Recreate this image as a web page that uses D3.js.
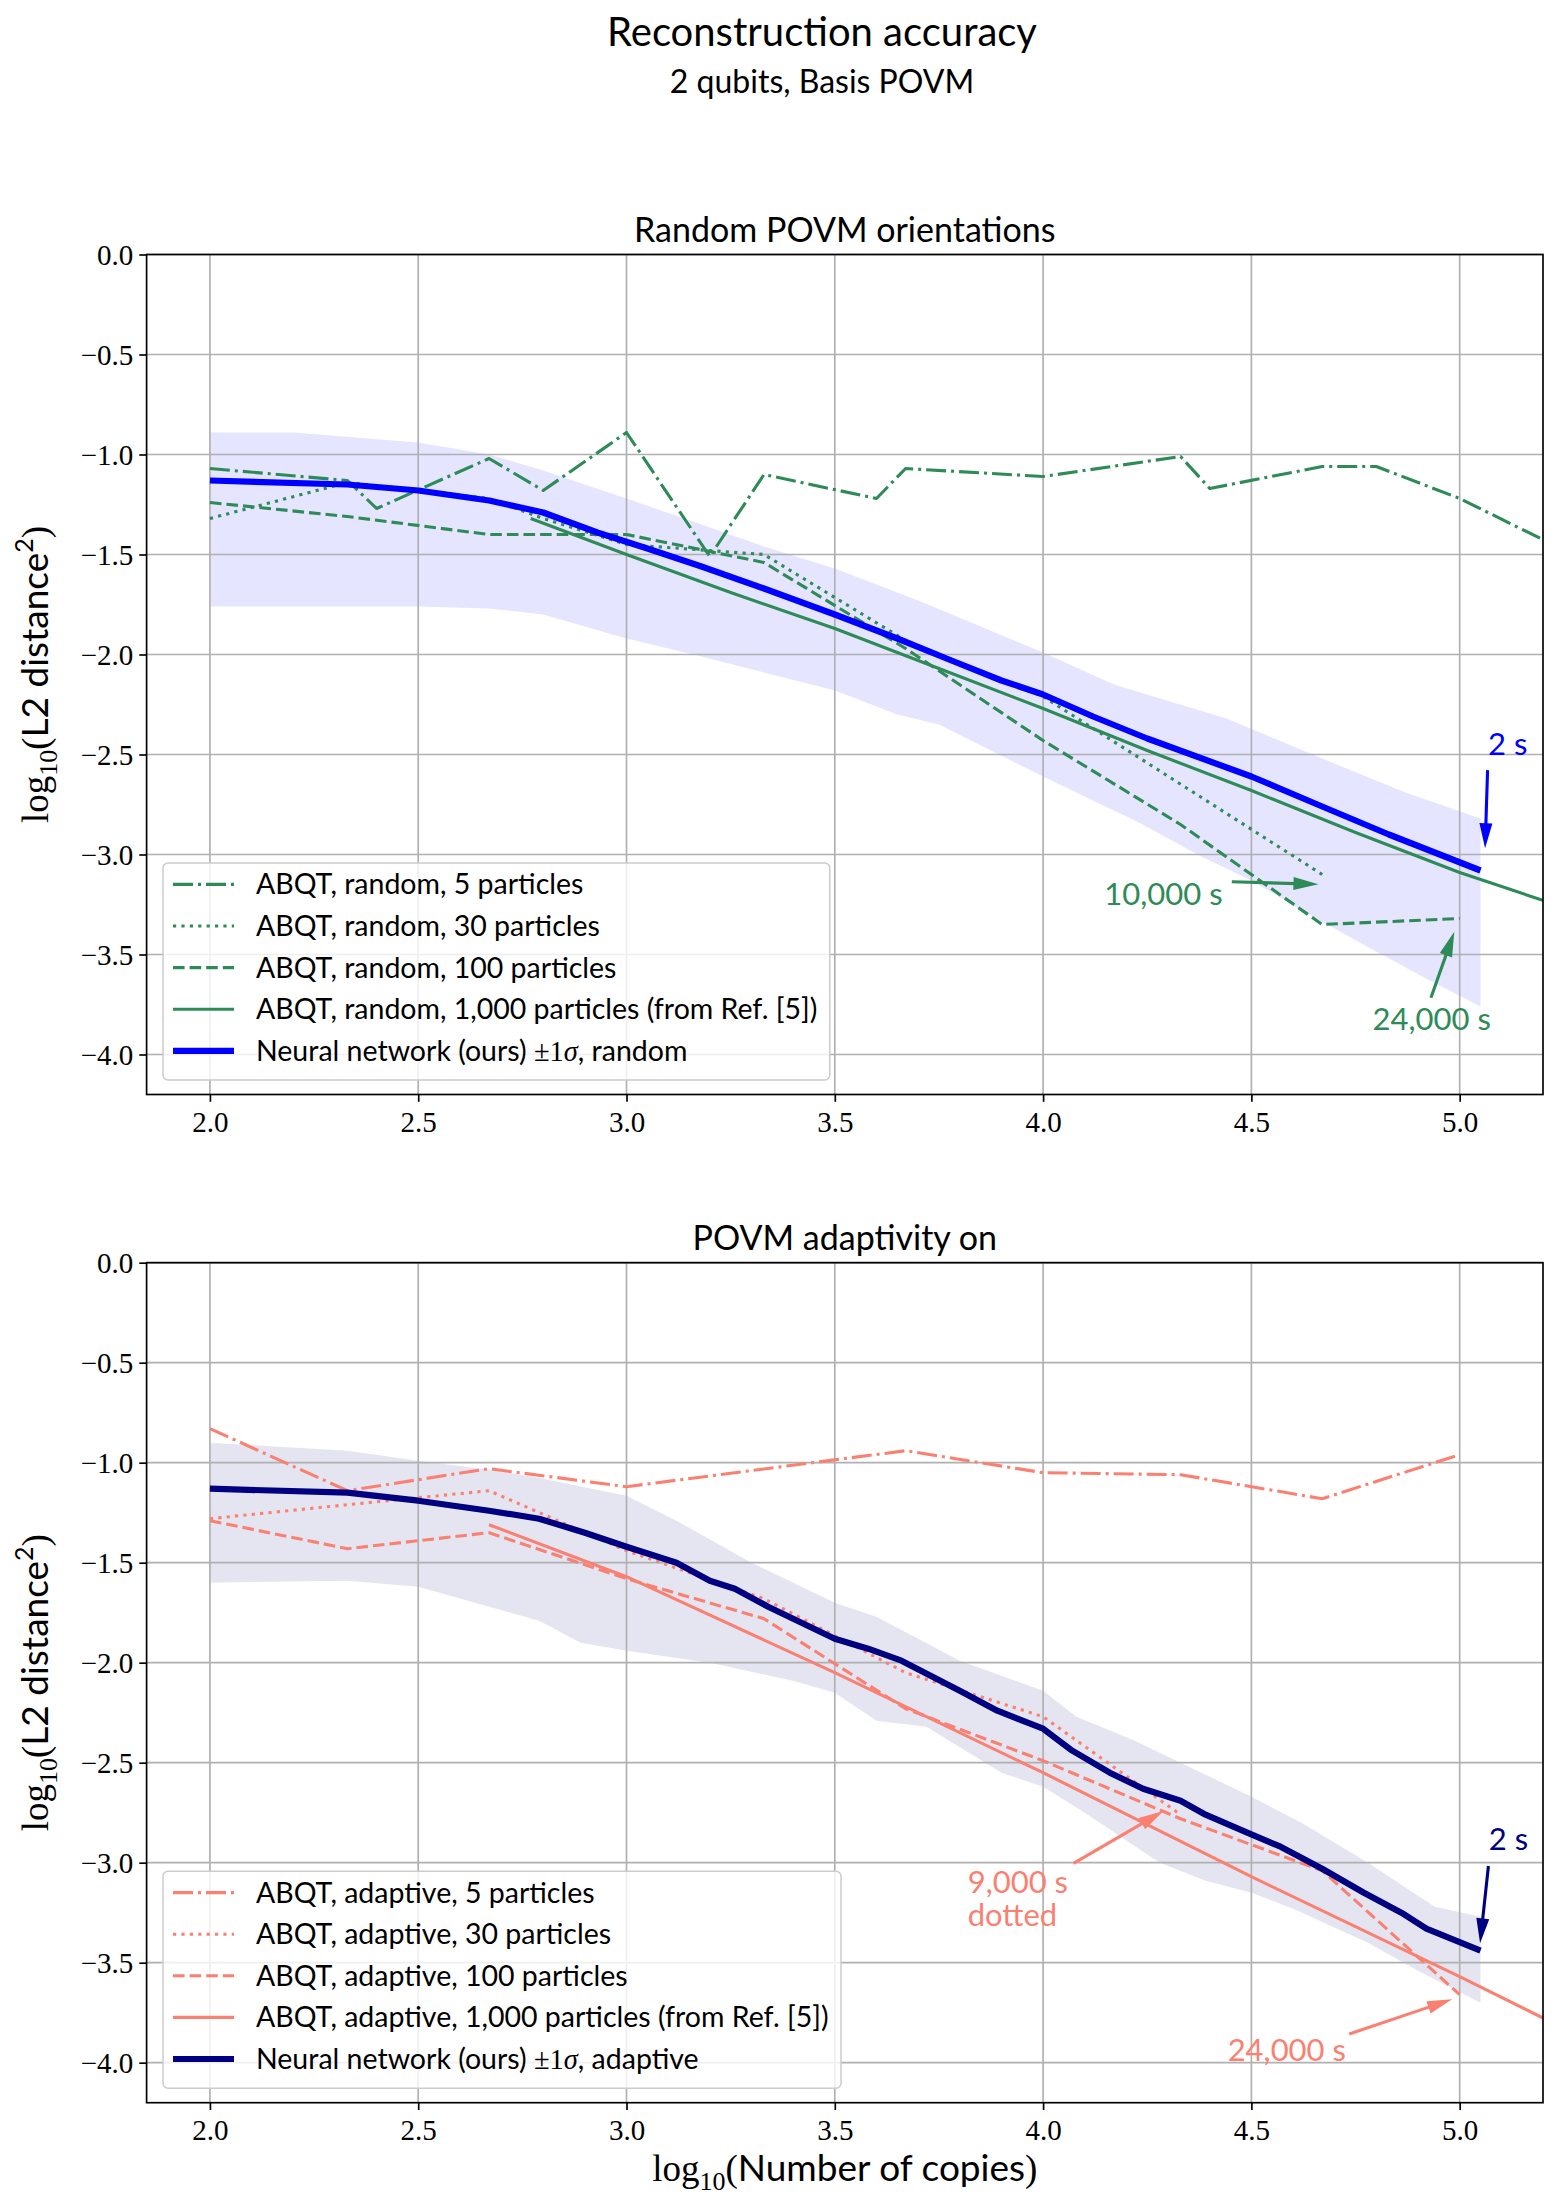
<!DOCTYPE html>
<html>
<head>
<meta charset="utf-8">
<script src="https://cdn.jsdelivr.net/npm/d3@7/dist/d3.min.js"></script>
<style>
    body { margin: 0; background: #ffffff; }
    svg text { font-family: Lato, "DejaVu Sans", sans-serif; fill: #000; }
    svg .num { font-family: "Liberation Serif", "DejaVu Serif", serif; }
</style>
</head>
<body>
<svg id="chart" width="1566" height="2211"></svg>
<script>

var xTicks = [2.0, 2.5, 3.0, 3.5, 4.0, 4.5, 5.0];
var yTicks = [0.0, -0.5, -1.0, -1.5, -2.0, -2.5, -3.0, -3.5, -4.0];

/* top panel, random POVM orientations : [log10(copies), log10(L2 distance^2)] */
var randomP5 = [[2.0, -1.07], [2.33, -1.13], [2.4, -1.27], [2.67, -1.02], [2.8, -1.18], [3.0, -0.89],
    [3.2, -1.51], [3.33, -1.10], [3.6, -1.22], [3.67, -1.07], [4.0, -1.11], [4.33, -1.01],
    [4.4, -1.17], [4.67, -1.06], [4.8, -1.06], [5.0, -1.22], [5.33, -1.56]];
var randomP30 = [[2.0, -1.32], [2.33, -1.14], [2.67, -1.22], [2.8, -1.32], [3.0, -1.45], [3.33, -1.50],
    [3.67, -1.93], [4.0, -2.21], [4.67, -3.10]];
var randomP100 = [[2.0, -1.24], [2.33, -1.31], [2.67, -1.40], [3.0, -1.40], [3.33, -1.54], [3.67, -1.97],
    [4.0, -2.43], [4.33, -2.85], [4.67, -3.35], [5.0, -3.32]];
var randomP1000 = [[2.77, -1.32], [3.0, -1.50], [3.25, -1.69], [3.5, -1.87], [3.75, -2.07], [4.0, -2.27],
    [4.25, -2.48], [4.5, -2.68], [4.75, -2.89], [5.0, -3.09], [5.33, -3.32]];
var randomNN = [[2.0, -1.13], [2.33, -1.15], [2.5, -1.18], [2.67, -1.23], [2.8, -1.29], [2.93, -1.39],
    [3.05, -1.47], [3.18, -1.56], [3.33, -1.67], [3.5, -1.80], [3.65, -1.92], [3.78, -2.03],
    [3.9, -2.13], [4.0, -2.20], [4.12, -2.31], [4.25, -2.42], [4.5, -2.61], [4.67, -2.76],
    [4.83, -2.90], [5.05, -3.08]];
var randomUpper = [[2.0, -0.89], [2.2, -0.89], [2.5, -0.94], [2.67, -1.0], [2.8, -1.08], [3.0, -1.22],
    [3.18, -1.35], [3.33, -1.46], [3.5, -1.57], [3.7, -1.73], [4.0, -1.99], [4.17, -2.15],
    [4.44, -2.32], [4.67, -2.52], [4.87, -2.69], [5.05, -2.82]];
var randomLower = [[2.0, -1.76], [2.5, -1.76], [2.67, -1.77], [2.8, -1.80], [3.0, -1.92], [3.18, -2.01],
    [3.5, -2.18], [3.65, -2.30], [3.75, -2.35], [4.0, -2.61], [4.15, -2.76], [4.23, -2.84],
    [4.38, -3.01], [4.5, -3.13], [4.63, -3.29], [4.76, -3.44], [4.91, -3.61], [5.05, -3.76]];

/* bottom panel, POVM adaptivity on */
var adaptiveP5 = [[2.0, -0.83], [2.33, -1.14], [2.67, -1.03], [3.0, -1.12], [3.67, -0.94], [4.0, -1.05],
    [4.33, -1.06], [4.67, -1.18], [5.0, -0.96]];
var adaptiveP30 = [[2.0, -1.28], [2.33, -1.21], [2.67, -1.14], [3.0, -1.44], [3.33, -1.68], [3.67, -2.05],
    [4.0, -2.27], [4.33, -2.76]];
var adaptiveP100 = [[2.0, -1.29], [2.33, -1.43], [2.67, -1.35], [3.0, -1.58], [3.33, -1.78], [3.67, -2.23],
    [4.0, -2.49], [4.33, -2.78], [4.67, -3.04], [5.0, -3.66]];
var adaptiveP1000 = [[2.67, -1.31], [3.0, -1.57], [3.5, -2.05], [4.0, -2.55], [4.5, -3.07], [5.0, -3.57],
    [5.33, -3.91]];
var adaptiveNN = [[2.0, -1.13], [2.33, -1.15], [2.5, -1.19], [2.67, -1.24], [2.79, -1.28], [2.9, -1.35],
    [3.0, -1.42], [3.12, -1.50], [3.2, -1.59], [3.26, -1.63], [3.34, -1.72], [3.42, -1.80],
    [3.5, -1.88], [3.58, -1.93], [3.66, -1.99], [3.8, -2.14], [3.89, -2.24], [4.0, -2.33],
    [4.07, -2.44], [4.16, -2.55], [4.24, -2.63], [4.33, -2.69], [4.39, -2.76], [4.49, -2.85],
    [4.57, -2.92], [4.67, -3.03], [4.77, -3.15], [4.86, -3.25], [4.92, -3.33], [5.05, -3.44]];
var adaptiveUpper = [[2.0, -0.90], [2.33, -0.94], [2.5, -0.99], [2.69, -1.04], [2.8, -1.08], [3.0, -1.165],
    [3.12, -1.29], [3.3, -1.50], [3.5, -1.70], [3.6, -1.77], [3.8, -1.99], [4.0, -2.14],
    [4.08, -2.27], [4.22, -2.39], [4.35, -2.52], [4.5, -2.67], [4.62, -2.80], [4.78, -3.00],
    [4.94, -3.22], [5.05, -3.27]];
var adaptiveLower = [[2.0, -1.60], [2.33, -1.59], [2.5, -1.62], [2.67, -1.72], [2.79, -1.79], [2.89, -1.90],
    [3.0, -1.94], [3.2, -2.0], [3.4, -2.09], [3.5, -2.15], [3.6, -2.29], [3.72, -2.32],
    [3.9, -2.55], [4.0, -2.62], [4.1, -2.75], [4.28, -3.0], [4.39, -3.09], [4.5, -3.15],
    [4.6, -3.23], [4.78, -3.40], [4.9, -3.54], [5.05, -3.70]];

var green = "#2e8b57", blue = "#0000ff", salmon = "#fa8072", navy = "#000080";
var dashStyles = {dashdot: "20,5,3,5", dotted: "3.2,5.2", dashed: "11.6,5", solid: null};

var randomSeries = [
    {data: randomP5, color: green, dash: "dashdot", width: 3.1, label: "ABQT, random, 5 particles"},
    {data: randomP30, color: green, dash: "dotted", width: 3.1, label: "ABQT, random, 30 particles"},
    {data: randomP100, color: green, dash: "dashed", width: 3.1, label: "ABQT, random, 100 particles"},
    {data: randomP1000, color: green, dash: "solid", width: 3.1, label: "ABQT, random, 1,000 particles (from Ref. [5])"},
    {data: randomNN, color: blue, dash: "solid", width: 6.2, nn: true, label: ", random"}
];
var adaptiveSeries = [
    {data: adaptiveP5, color: salmon, dash: "dashdot", width: 3.1, label: "ABQT, adaptive, 5 particles"},
    {data: adaptiveP30, color: salmon, dash: "dotted", width: 3.1, label: "ABQT, adaptive, 30 particles"},
    {data: adaptiveP100, color: salmon, dash: "dashed", width: 3.1, label: "ABQT, adaptive, 100 particles"},
    {data: adaptiveP1000, color: salmon, dash: "solid", width: 3.1, label: "ABQT, adaptive, 1,000 particles (from Ref. [5])"},
    {data: adaptiveNN, color: navy, dash: "solid", width: 6.2, nn: true, label: ", adaptive"}
];

/* annotations in data coordinates: text position, arrow tail and arrow tip */
var randomNotes = [
    {lines: ["2 s"], color: blue, at: [5.068, -2.503], anchor: "start", from: [5.067, -2.578], to: [5.061, -2.969]},
    {lines: ["10,000 s"], color: green, at: [4.431, -3.2525], anchor: "end", from: [4.453, -3.136], to: [4.661, -3.149]},
    {lines: ["24,000 s"], color: green, at: [4.791, -3.8775], anchor: "start", from: [4.931, -3.716], to: [4.987, -3.386]}
];
var adaptiveNotes = [
    {lines: ["2 s"], color: navy, at: [5.07, -2.9365], anchor: "start", from: [5.069, -3.0165], to: [5.049, -3.403]},
    {lines: ["9,000 s", "dotted"], color: salmon, at: [3.819, -3.15], anchor: "start", from: [4.073, -3.003], to: [4.289, -2.7415]},
    {lines: ["24,000 s"], color: salmon, at: [4.443, -3.9915], anchor: "start", from: [4.735, -3.8565], to: [4.982, -3.683]}
];

var panels = [
    {top: 254.5, title: "Random POVM orientations", series: randomSeries, upper: randomUpper,
        lower: randomLower, band: "#e5e5ff", notes: randomNotes},
    {top: 1262.7, title: "POVM adaptivity on", series: adaptiveSeries, upper: adaptiveUpper,
        lower: adaptiveLower, band: "#e5e5f2", notes: adaptiveNotes}
];

var svg = d3.select("#chart");
var left = 146.6;
var plotW = 1396.4, plotH = 840;

var x = d3.scaleLinear().domain([1.848, 5.2]).range([0, plotW]);
var y = d3.scaleLinear().domain([-4.2, 0]).range([plotH, 0]);

var line = d3.line()
        .x(function (d) { return x(d[0]); })
        .y(function (d) { return y(d[1]); });

function fmt(v) {
    var s = Math.abs(v).toFixed(1);
    return (v < 0 ? "\u2212" : "") + s;
}

function drawArrow(g, x0, y0, x1, y1, color) {
    var dx = x1 - x0, dy = y1 - y0;
    var len = Math.sqrt(dx * dx + dy * dy);
    var ux = dx / len, uy = dy / len;
    var hl = 25, hw = 6.5;
    var bx = x1 - ux * hl, by = y1 - uy * hl;
    g.append("line")
            .attr("x1", x0).attr("y1", y0)
            .attr("x2", bx + ux * 2).attr("y2", by + uy * 2)
            .attr("stroke", color)
            .attr("stroke-width", 3.1);
    g.append("path")
            .attr("d", "M" + x1 + "," + y1 + "L" + (bx - uy * hw) + "," + (by + ux * hw) +
                    "L" + (bx + uy * hw) + "," + (by - ux * hw) + "Z")
            .attr("fill", color);
}

// ±1σ legend text, math part in serif
function nnLabel(t, suffix) {
    t.append("tspan").text("Neural network (ours) ");
    t.append("tspan").attr("class", "num").text("\u00b11");
    t.append("tspan").attr("class", "num").attr("font-style", "italic").text("\u03c3");
    t.append("tspan").text(suffix);
}

// log10( ... ) axis labels
function logLabel(t, inner, sup) {
    t.append("tspan").attr("class", "num").text("log");
    t.append("tspan").attr("class", "num").attr("font-size", 26).attr("dy", 9).text("10");
    t.append("tspan").attr("class", "num").attr("dy", -9).text("(");
    t.append("tspan").text(inner);
    if (sup) {
        t.append("tspan").attr("font-size", 25).attr("dy", -15).text(sup);
        t.append("tspan").attr("class", "num").attr("dy", 15).text(")");
    } else {
        t.append("tspan").attr("class", "num").text(")");
    }
}

// figure titles
svg.append("text")
        .attr("x", 822).attr("y", 46)
        .attr("text-anchor", "middle")
        .attr("font-size", 40)
        .text("Reconstruction accuracy");
svg.append("text")
        .attr("x", 822).attr("y", 93)
        .attr("text-anchor", "middle")
        .attr("font-size", 32)
        .text("2 qubits, Basis POVM");

panels.forEach(function (p, pi) {
    var g = svg.append("g").attr("transform", "translate(" + left + "," + p.top + ")");
    var clipId = "clip" + pi;

    g.append("defs")
            .append("clipPath")
            .attr("id", clipId)
            .append("rect")
            .attr("width", plotW)
            .attr("height", plotH);

    // ±1σ band: upper edge forward, lower edge back
    var poly = p.upper.concat(p.lower.slice().reverse());
    g.append("path")
            .attr("d", line(poly) + "Z")
            .attr("fill", p.band)
            .attr("clip-path", "url(#" + clipId + ")");

    // grid
    g.selectAll(".gx").data(xTicks).enter().append("line")
            .attr("x1", function (d) { return x(d); })
            .attr("x2", function (d) { return x(d); })
            .attr("y1", 0).attr("y2", plotH)
            .attr("stroke", "#b0b0b0").attr("stroke-width", 1.67);
    g.selectAll(".gy").data(yTicks).enter().append("line")
            .attr("y1", function (d) { return y(d); })
            .attr("y2", function (d) { return y(d); })
            .attr("x1", 0).attr("x2", plotW)
            .attr("stroke", "#b0b0b0").attr("stroke-width", 1.67);

    // series
    var lines = g.append("g").attr("clip-path", "url(#" + clipId + ")");
    p.series.forEach(function (s) {
        lines.append("path")
                .datum(s.data)
                .attr("d", line)
                .attr("fill", "none")
                .attr("stroke", s.color)
                .attr("stroke-width", s.width)
                .attr("stroke-linejoin", "round")
                .attr("stroke-dasharray", dashStyles[s.dash]);
    });

    // axes
    var xAxis = g.append("g")
            .attr("transform", "translate(0," + plotH + ")")
            .call(d3.axisBottom(x).tickValues(xTicks).tickSize(7.3).tickPadding(6).tickFormat(d3.format(".1f")));
    var yAxis = g.append("g")
            .call(d3.axisLeft(y).tickValues(yTicks).tickSize(7.3).tickPadding(6).tickFormat(fmt));
    [xAxis, yAxis].forEach(function (a) {
        a.select(".domain").remove();
        a.selectAll(".tick line").attr("stroke", "#000").attr("stroke-width", 1.67);
        a.selectAll(".tick text")
                .attr("class", "num")
                .attr("font-size", 29)
                .attr("fill", "#000");
    });
    xAxis.selectAll(".tick text").attr("dy", null).attr("y", 37).attr("dominant-baseline", null);
    yAxis.selectAll(".tick text").attr("dy", "0.33em");

    g.append("rect")
            .attr("width", plotW).attr("height", plotH)
            .attr("fill", "none")
            .attr("stroke", "#000")
            .attr("stroke-width", 1.67);

    // subplot title
    g.append("text")
            .attr("x", plotW / 2).attr("y", -12.5)
            .attr("text-anchor", "middle")
            .attr("font-size", 34)
            .text(p.title);

    // y label
    var yl = g.append("text")
            .attr("transform", "translate(" + (48 - left) + "," + (plotH / 2) + ") rotate(-90)")
            .attr("text-anchor", "middle")
            .attr("font-size", 37);
    logLabel(yl, "L2 distance", "2");

    // annotations
    p.notes.forEach(function (n) {
        var t = g.append("text")
                .attr("x", x(n.at[0])).attr("y", y(n.at[1]))
                .attr("text-anchor", n.anchor)
                .attr("font-size", 31)
                .style("fill", n.color);
        n.lines.forEach(function (l, i) {
            t.append("tspan")
                    .attr("x", x(n.at[0]))
                    .attr("dy", i === 0 ? 0 : 33.3)
                    .text(l);
        });
        drawArrow(g, x(n.from[0]), y(n.from[1]), x(n.to[0]), y(n.to[1]), n.color);
    });

    // legend, lower left
    var rowGap = 41.6, boxH = 217;
    var boxTop = plotH - 14.5 - boxH;
    var lg = g.append("g").attr("transform", "translate(16.4," + boxTop + ")");
    var box = lg.append("rect")
            .attr("height", boxH)
            .attr("rx", 5)
            .attr("fill", "#ffffff").attr("fill-opacity", 0.8)
            .attr("stroke", "#cccccc").attr("stroke-width", 1.5);
    var maxW = 0;
    p.series.forEach(function (s, i) {
        var cy = 21.4 + i * rowGap;
        lg.append("line")
                .attr("x1", 10).attr("x2", 71)
                .attr("y1", cy).attr("y2", cy)
                .attr("stroke", s.color)
                .attr("stroke-width", s.width)
                .attr("stroke-dasharray", dashStyles[s.dash]);
        var t = lg.append("text")
                .attr("x", 93).attr("y", cy + 10)
                .attr("font-size", 28.5);
        if (s.nn) {
            nnLabel(t, s.label);
        } else {
            t.text(s.label);
        }
        maxW = Math.max(maxW, t.node().getComputedTextLength());
    });
    box.attr("width", 93 + maxW + 12.5);
});

// x label under the bottom panel
var xl = svg.append("text")
        .attr("x", left + plotW / 2).attr("y", 2181)
        .attr("text-anchor", "middle")
        .attr("font-size", 37);
logLabel(xl, "Number of copies");

</script>
</body>
</html>
